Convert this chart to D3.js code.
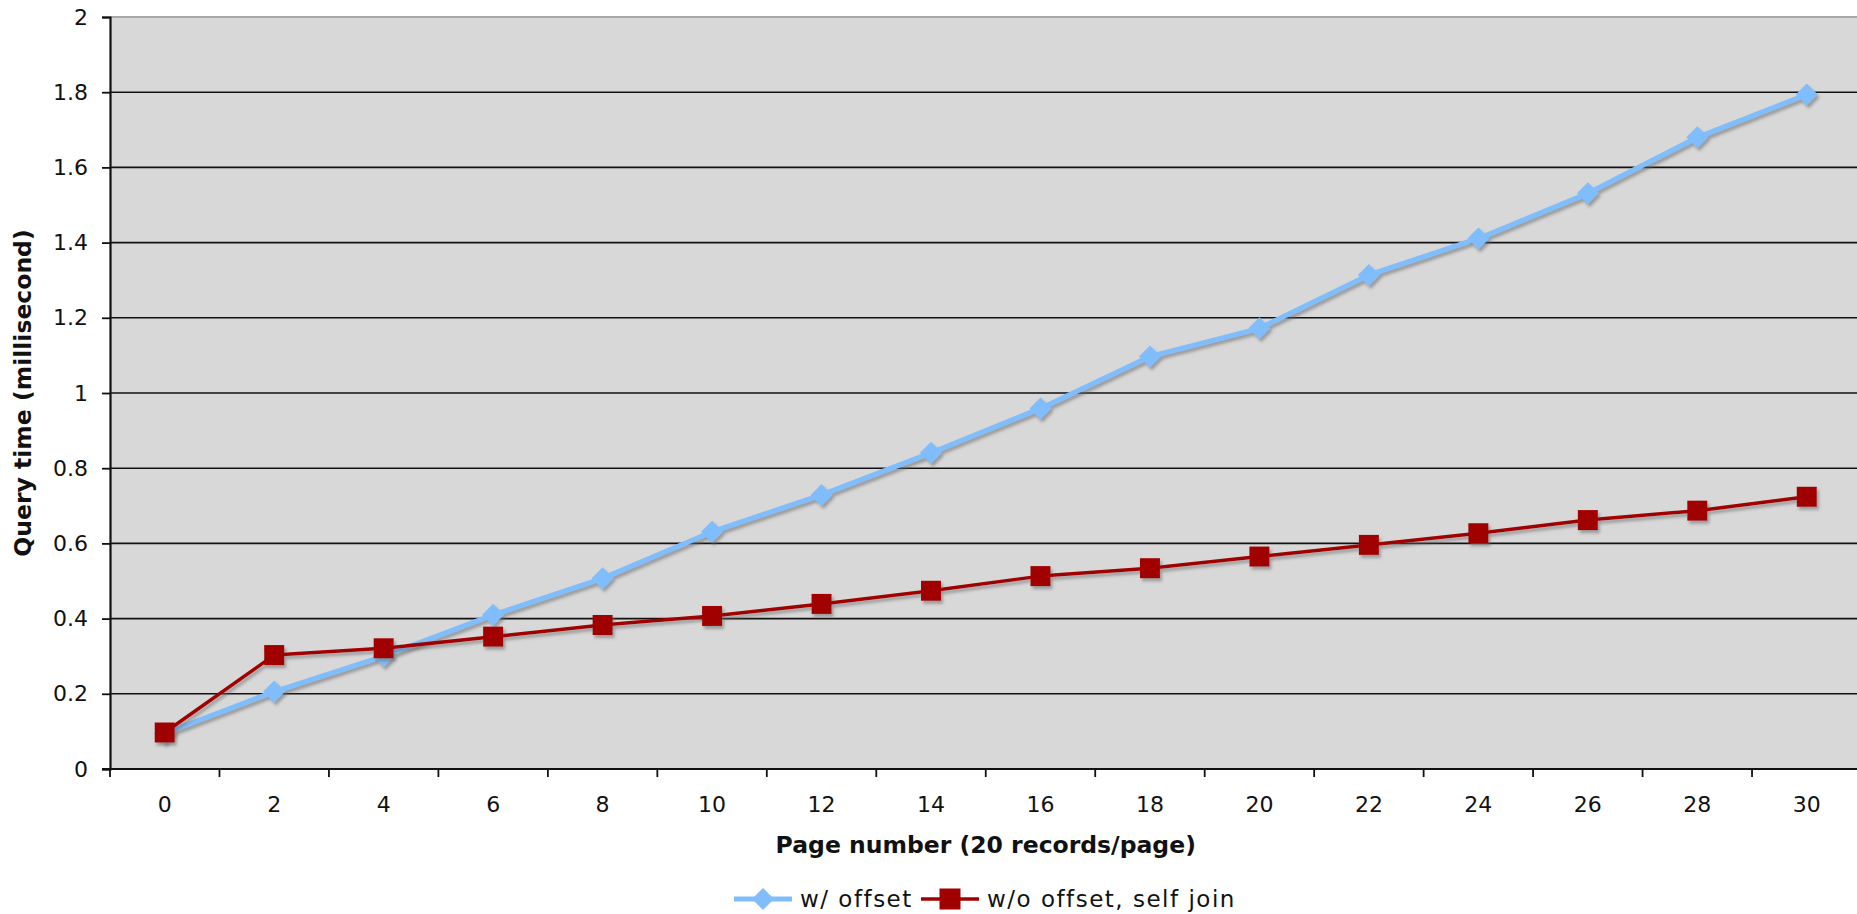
<!DOCTYPE html>
<html>
<head>
<meta charset="utf-8">
<script src="https://cdn.jsdelivr.net/npm/d3@7"></script>
<style>
  html, body { margin: 0; padding: 0; background: #fff; overflow: hidden; }
  text { font-family: "DejaVu Sans", Verdana, sans-serif; fill: #111; }
</style>
</head>
<body>
<svg id="chart" width="1857" height="914"></svg>
<script>
const pages = ["0","2","4","6","8","10","12","14","16","18","20","22","24","26","28","30"];
const withOffset = [0.095,0.206,0.300,0.410,0.507,0.631,0.729,0.841,0.959,1.097,1.172,1.314,1.411,1.531,1.680,1.794];
const withoutOffset = [0.097,0.303,0.321,0.352,0.383,0.407,0.439,0.474,0.513,0.534,0.565,0.596,0.627,0.662,0.687,0.724];
const yTickValues = [0,0.2,0.4,0.6,0.8,1,1.2,1.4,1.6,1.8,2];
const seriesNames = ["w/ offset", "w/o offset, self join"];
const xTitle = "Page number (20 records/page)";
const yTitle = "Query time (millisecond)";

const svg = d3.select("#chart");
const pLeft = 110, pRight = 1861.5, pTop = 17, pBottom = 769;
const blue = "#80bdfc", red = "#a00000";

const x = d3.scaleBand().domain(pages).range([pLeft, pRight]).padding(0);
const y = d3.scaleLinear().domain([0, 2]).range([pBottom, pTop]);

const defs = svg.append("defs");
const f = defs.append("filter").attr("id","shadow").attr("x","-20%").attr("y","-20%").attr("width","140%").attr("height","140%");
f.append("feDropShadow").attr("dx",2).attr("dy",3).attr("stdDeviation",1.4)
  .attr("flood-color","#6a6a6a").attr("flood-opacity",0.55);
defs.append("clipPath").attr("id","plotclip").append("rect")
  .attr("x",pLeft).attr("y",pTop-15).attr("width",pRight-pLeft+20).attr("height",pBottom-pTop+30);

// plot background
svg.append("rect").attr("x", pLeft).attr("y", pTop).attr("width", pRight-pLeft).attr("height", pBottom-pTop)
  .attr("fill", "#d8d8d8");
// top border
svg.append("line").attr("x1",pLeft).attr("x2",pRight).attr("y1",pTop).attr("y2",pTop)
  .attr("stroke","#a8a8a8").attr("stroke-width",2);

// gridlines
svg.append("g").selectAll("line").data(yTickValues.filter(v => v > 0 && v < 2)).join("line")
  .attr("x1", pLeft).attr("x2", pRight).attr("y1", d => y(d)).attr("y2", d => y(d))
  .attr("stroke", "#111").attr("stroke-width", 1.6);

// y axis
const yAxis = svg.append("g").attr("transform", `translate(${pLeft},0)`)
  .call(d3.axisLeft(y).tickValues(yTickValues).tickFormat(d => String(d)).tickSize(8).tickPadding(14));
yAxis.select(".domain").attr("stroke","#111").attr("stroke-width",2.2);
yAxis.selectAll(".tick line").attr("stroke","#111").attr("stroke-width",1.8);
yAxis.selectAll(".tick text").style("font-size","22px").attr("fill","#111");

// x axis labels
const xAxis = svg.append("g").attr("transform", `translate(0,${pBottom})`)
  .call(d3.axisBottom(x).tickSize(0).tickPadding(27));
xAxis.select(".domain").remove();
xAxis.selectAll(".tick text").style("font-size","22px").attr("fill","#111");
// x axis line and boundary ticks
svg.append("line").attr("x1", pLeft - 8).attr("x2", pRight).attr("y1", pBottom).attr("y2", pBottom)
  .attr("stroke","#111").attr("stroke-width",2.2);
const edges = pages.map(p => x(p)).concat([x(pages[pages.length-1]) + x.bandwidth()]);
svg.append("g").selectAll("line").data(edges).join("line")
  .attr("x1", d => d).attr("x2", d => d).attr("y1", pBottom).attr("y2", pBottom + 8)
  .attr("stroke","#111").attr("stroke-width",1.8);

// axis titles
svg.append("text").attr("x", (pLeft + pRight) / 2).attr("y", 853).attr("text-anchor","middle")
  .style("font-size","23.5px").style("font-weight","bold").text(xTitle);
svg.append("text").attr("transform", `translate(31,${(pTop+pBottom)/2}) rotate(-90)`)
  .attr("text-anchor","middle").style("font-size","23.5px").style("font-weight","bold").text(yTitle);

// series
const cx = p => x(p) + x.bandwidth()/2;
const line = d3.line().x(d => cx(d.p)).y(d => y(d.v));
const blueData = pages.map((p,i) => ({p, v: withOffset[i]}));
const redData = pages.map((p,i) => ({p, v: withoutOffset[i]}));

const plot = svg.append("g").attr("clip-path","url(#plotclip)");
const gBlue = plot.append("g").attr("filter","url(#shadow)");
gBlue.append("path").datum(blueData).attr("d", line).attr("fill","none")
  .attr("stroke", blue).attr("stroke-width", 5).attr("stroke-linejoin","round");
const diamond = s => `M0,${-s}L${s},0L0,${s}L${-s},0Z`;
gBlue.selectAll("path.m").data(blueData).join("path").attr("class","m")
  .attr("d", diamond(11)).attr("transform", d => `translate(${cx(d.p)},${y(d.v)})`).attr("fill", blue);

const gRed = plot.append("g").attr("filter","url(#shadow)");
gRed.append("path").datum(redData).attr("d", line).attr("fill","none")
  .attr("stroke", red).attr("stroke-width", 3.5).attr("stroke-linejoin","round");
gRed.selectAll("rect.m").data(redData).join("rect").attr("class","m")
  .attr("x", d => cx(d.p) - 10).attr("y", d => y(d.v) - 10).attr("width", 20).attr("height", 20)
  .attr("fill", red);

// legend
const ly = 899;
const lg = svg.append("g");
lg.append("line").attr("x1",734).attr("x2",792).attr("y1",ly).attr("y2",ly).attr("stroke",blue).attr("stroke-width",5);
lg.append("path").attr("d", diamond(11)).attr("transform",`translate(763,${ly})`).attr("fill",blue);
lg.append("text").attr("x",800).attr("y",ly).attr("dy","0.35em").style("font-size","23px")
  .style("letter-spacing","1.5px").text(seriesNames[0]);
lg.append("line").attr("x1",921).attr("x2",979).attr("y1",ly).attr("y2",ly).attr("stroke",red).attr("stroke-width",3.5);
lg.append("rect").attr("x",939.5).attr("y",ly-10.5).attr("width",21).attr("height",21).attr("fill",red);
lg.append("text").attr("x",987).attr("y",ly).attr("dy","0.35em").style("font-size","23px")
  .style("letter-spacing","1.5px").text(seriesNames[1]);
</script>
</body>
</html>
